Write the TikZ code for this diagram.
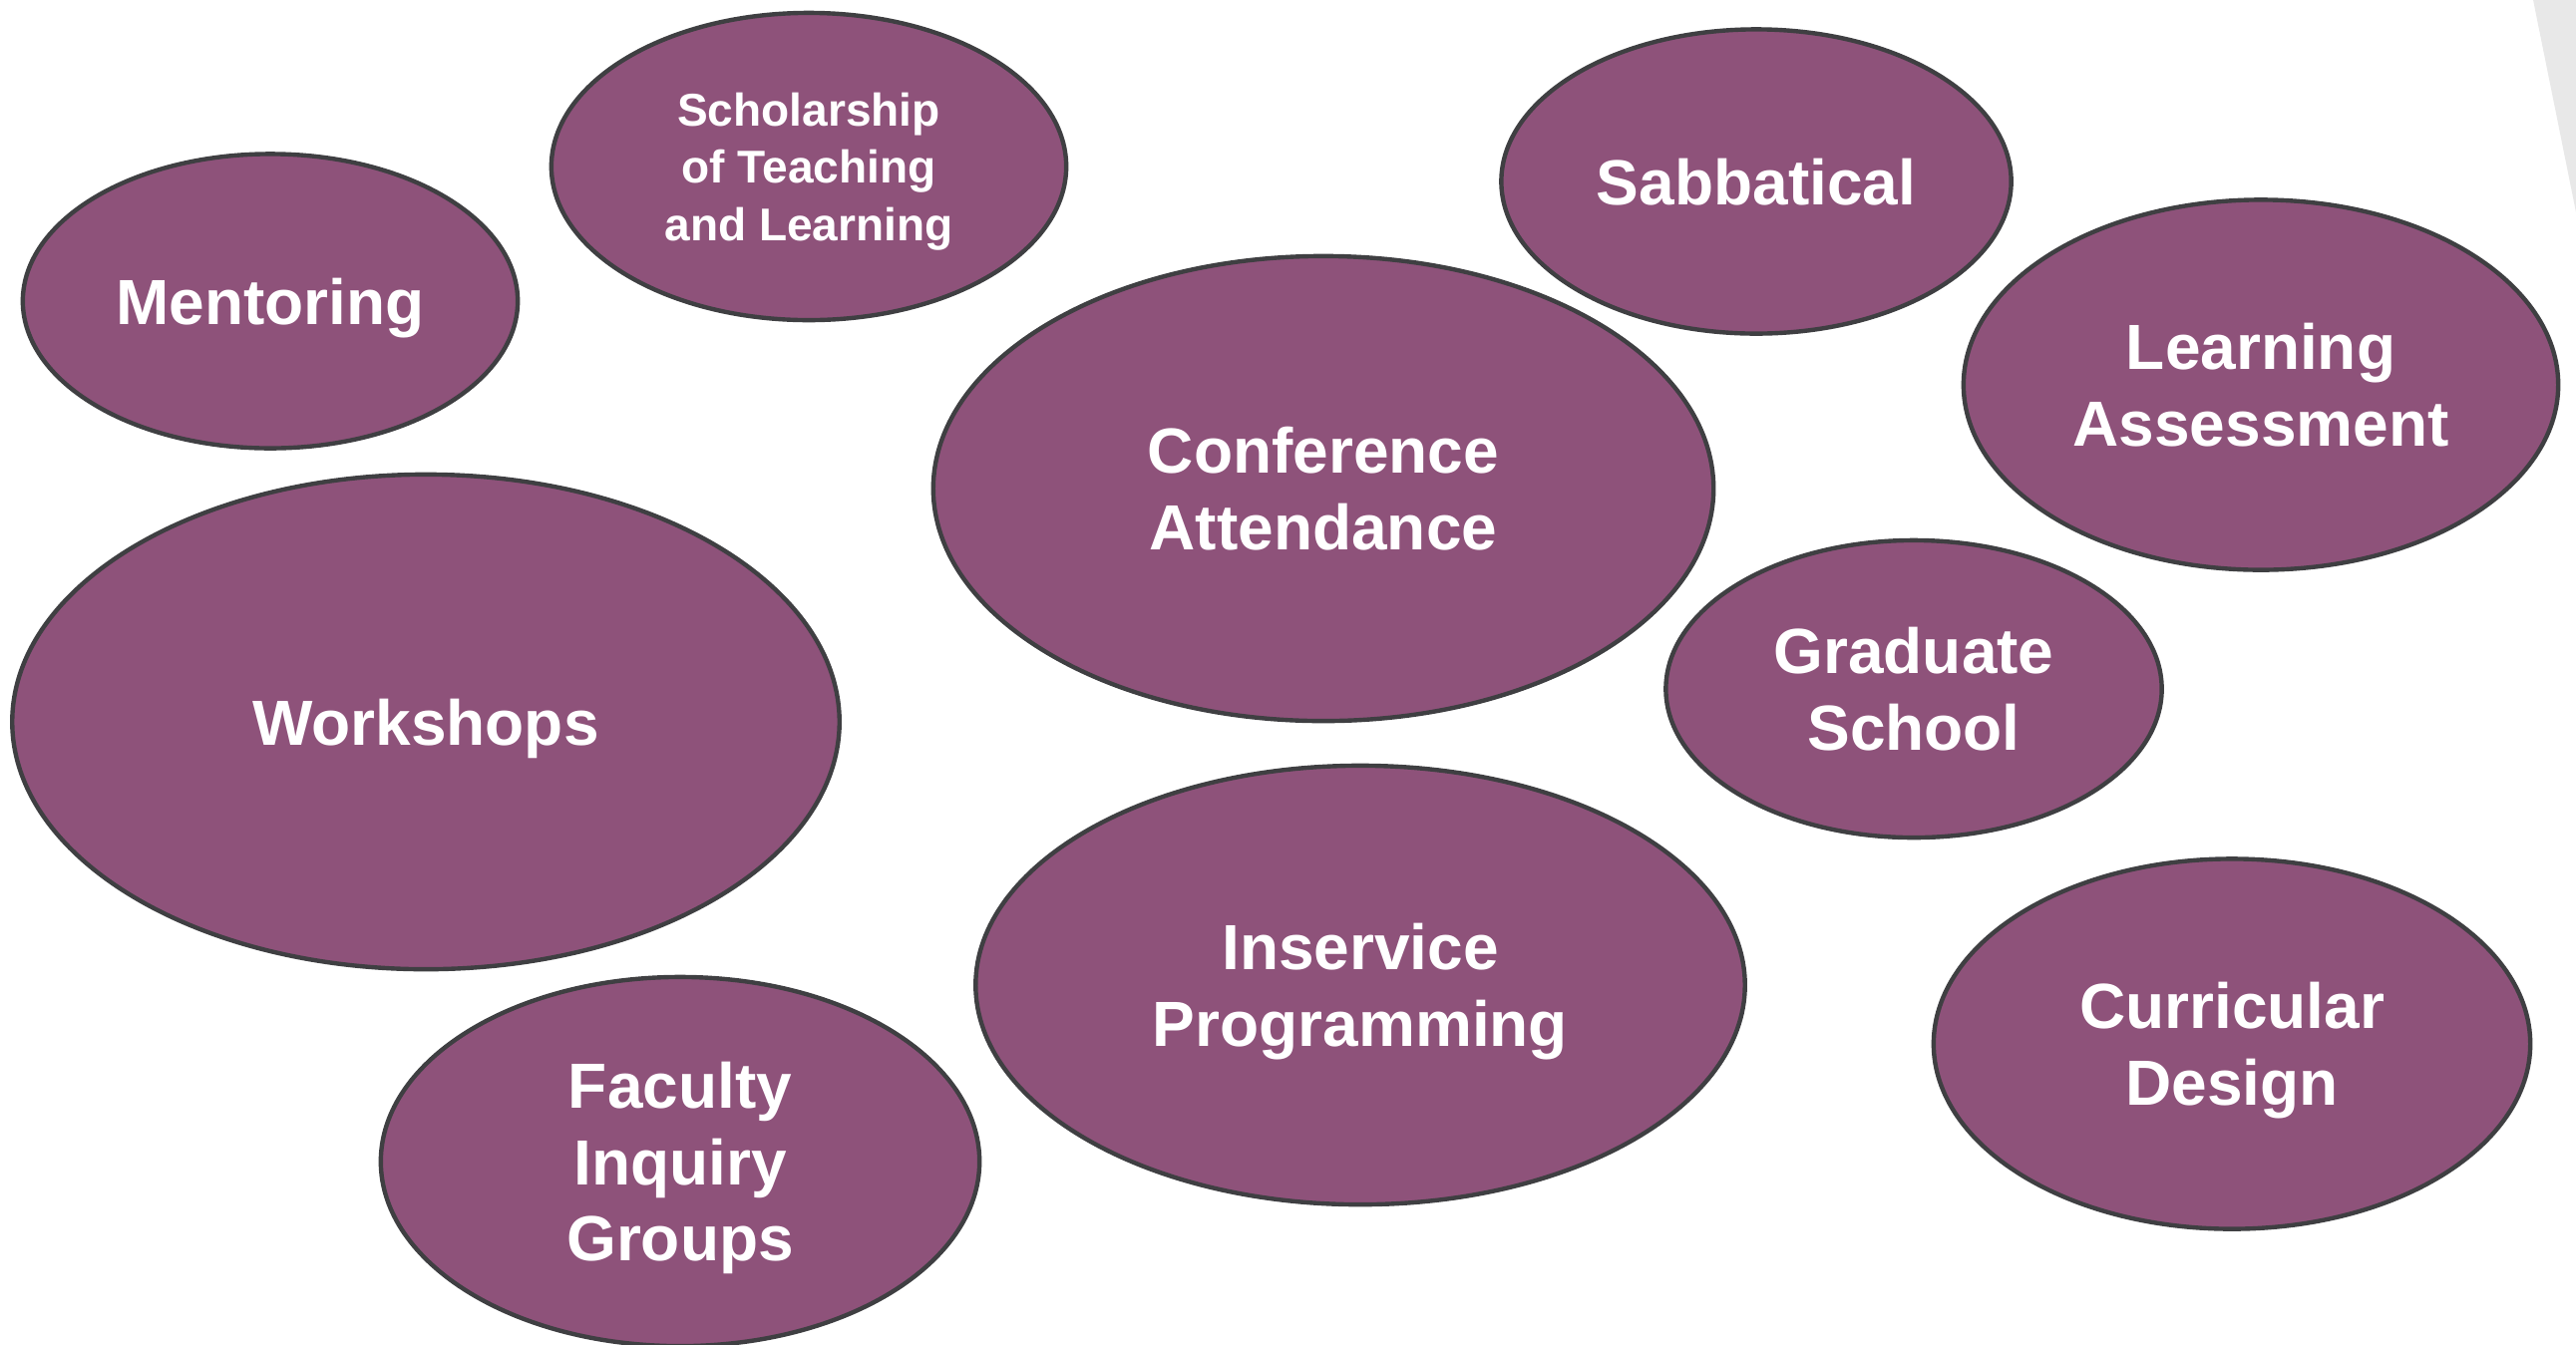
\documentclass[tikz,border=0pt]{standalone}
\usepackage{fontspec}
\setmainfont{Liberation Sans}
\usetikzlibrary{shapes.geometric}

\definecolor{plum}{HTML}{8E527A}
\definecolor{rimgray}{HTML}{3F3F42}
\definecolor{sliver}{HTML}{E8E8E8}

\begin{document}
\begin{tikzpicture}[
    x=0.01cm, y=-0.01cm,
    bubble/.style={ellipse, draw=rimgray, fill=plum, line width=1.25pt, inner sep=0pt,
        text depth=0pt, text=white, align=center, font=\bfseries\fontsize{18.2}{21.8}\selectfont},
    smallbubble/.style={bubble, font=\bfseries\fontsize{13.1}{16.3}\selectfont}
]
    \useasboundingbox (0,0) rectangle (2583,1348);

    % grey sliver in the top right corner
    \fill[sliver] (2540,0) -- (2583,0) -- (2583,213) -- cycle;

    % top row
    \node[bubble, minimum width=4.96cm, minimum height=2.95cm] (mentoring) at (271,302) {Mentoring};
    \node[smallbubble, minimum width=5.16cm, minimum height=3.08cm] (sotl) at (811,167) {Scholarship\\of Teaching\\and Learning};
    \node[bubble, minimum width=5.11cm, minimum height=3.05cm] (sabbatical) at (1761,182) {Sabbatical};
    \node[bubble, minimum width=5.96cm, minimum height=3.71cm] (assessment) at (2267,386) {Learning\\Assessment};

    % middle
    \node[bubble, minimum width=7.82cm, minimum height=4.66cm] (conference) at (1327,490) {Conference\\Attendance};
    \node[bubble, minimum width=8.29cm, minimum height=4.96cm] (workshops) at (427,724) {Workshops};
    \node[bubble, minimum width=4.97cm, minimum height=2.98cm] (gradschool) at (1919,691) {Graduate\\School};

    % bottom row
    \node[bubble, minimum width=7.71cm, minimum height=4.40cm] (inservice) at (1364,988) {Inservice\\Programming};
    \node[bubble, minimum width=6.00cm, minimum height=3.70cm] (inquiry) at (682,1165) {Faculty\\Inquiry\\Groups};
    \node[bubble, minimum width=5.98cm, minimum height=3.71cm] (curricular) at (2238,1047) {Curricular\\Design};

\end{tikzpicture}
\end{document}
